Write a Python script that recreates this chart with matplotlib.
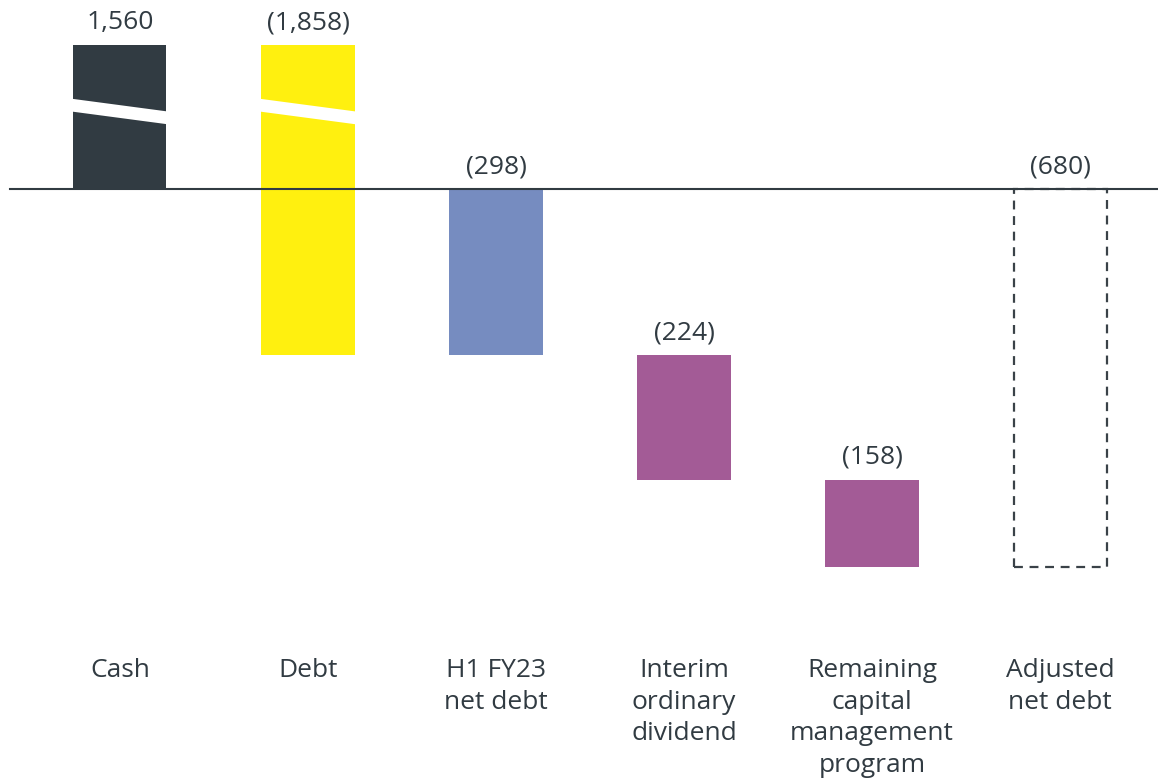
import matplotlib.pyplot as plt
from matplotlib.patches import Rectangle, Polygon

plt.rcParams['font.family'] = ['Open Sans', 'DejaVu Sans']

categories = ["Cash", "Debt", "H1 FY23\nnet debt", "Interim\nordinary\ndividend",
              "Remaining\ncapital\nmanagement\nprogram", "Adjusted\nnet debt"]
values = [1560, -1858, -298, -224, -158, -680]
value_labels = ["1,560", "(1,858)", "(298)", "(224)", "(158)", "(680)"]
colors = ["#313b42", "#fff00f", "#768cc0", "#a35b96", "#a35b96", "none"]

# cash and debt are too big to show at scale, they get a broken bar
broken_cap = 259
text_color = "#313b42"

fig = plt.figure(figsize=(11.58, 7.8), dpi=100)
ax = fig.add_axes([0, 0, 1, 1])
ax.set_xlim(-0.638, 5.521)
ax.set_ylim(-1062, 340)
ax.axis("off")

width = 0.495

# work out bar extents (waterfall), as (low, high)
cash, debt = values[0], values[1]
net = cash + debt
bars = [
    (0, broken_cap),
    (net, broken_cap),
    (net, 0),
    (net + values[3], net),
    (net + values[3] + values[4], net + values[3]),
    (values[5], 0),
]

for i, (lo, hi) in enumerate(bars):
    if i == 5:
        ax.add_patch(Rectangle((i - width / 2, lo), width, hi - lo, fill=False,
                               edgecolor="#3a4248", linestyle=(0, (4, 3)), lw=1.6))
    else:
        ax.add_patch(Rectangle((i - width / 2, lo), width, hi - lo,
                               facecolor=colors[i], edgecolor="none"))
    if i < 2:
        # white slanted gap to show the break
        x0, x1 = i - width / 2 - 0.02, i + width / 2 + 0.02
        ax.add_patch(Polygon([(x0, 163), (x1, 139), (x1, 116), (x0, 140)],
                             closed=True, facecolor="white", edgecolor="none"))
    ax.text(i, hi + 28, value_labels[i], ha="center", va="baseline",
            fontsize=19, color=text_color)
    ax.text(i, -843, categories[i], ha="center", va="top", fontsize=19,
            color=text_color, linespacing=1.34)

ax.plot([-0.585, 5.521], [0, 0], color=text_color, lw=1.5, zorder=5)

fig.savefig("out.png", dpi=100)
